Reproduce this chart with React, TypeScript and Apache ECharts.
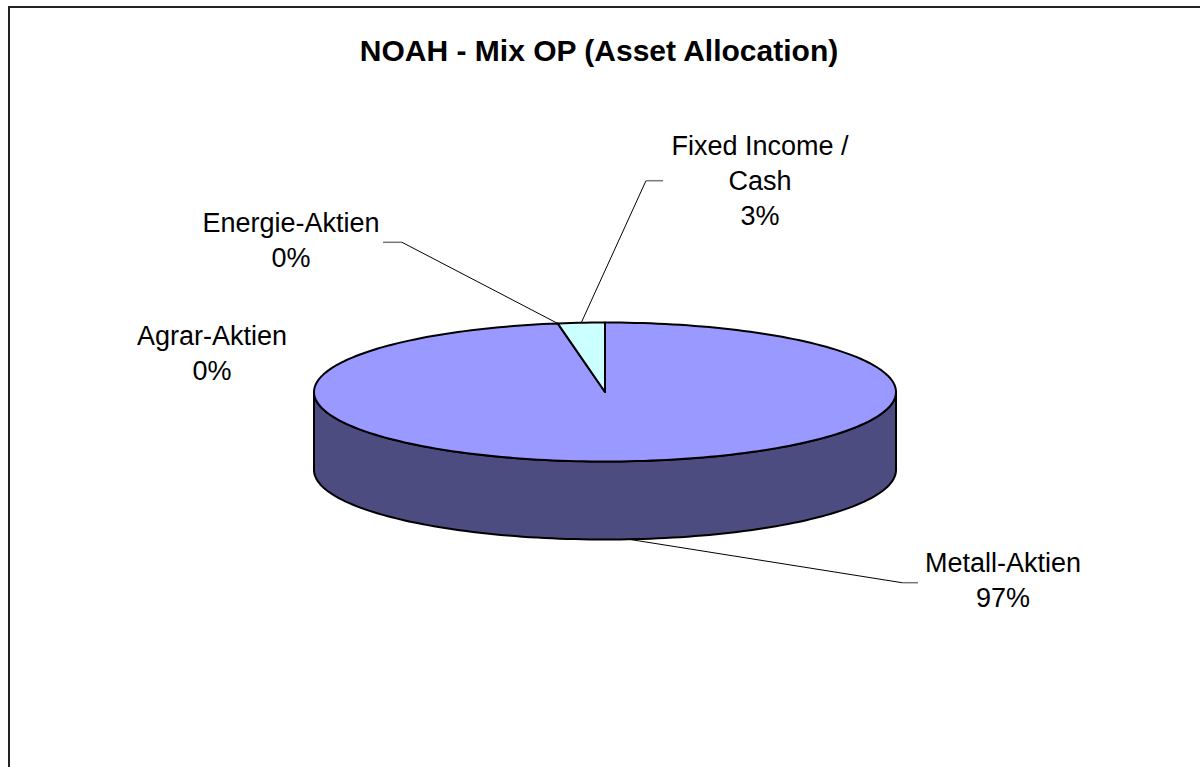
import React, { useEffect, useRef } from "react";
import * as echarts from "echarts";

// ---- data ----
const categories = ["Metall-Aktien", "Agrar-Aktien", "Energie-Aktien", "Fixed Income / Cash"];
const values = [97.4, 0, 0, 2.6];
const topColors = ["#9999FF", "#993366", "#FFFFCC", "#CCFFFF"];
const sideColors = ["#4C4C80", "#4C1A33", "#808066", "#668080"];
const titleText = "NOAH - Mix OP (Asset Allocation)";

// ---- layout (positions only) ----
const CX = 605;
const CY = 392;
const RX = 291;
const RY = 69.5;
const DEPTH = 78;
const labelLayout = [
  { x: 1003, y: 580, elbow: [902, 582.7], end: 918 },
  { x: 212, y: 353, elbow: null, end: 0 },
  { x: 291, y: 240.5, elbow: [402, 242.3], end: 383 },
  { x: 760, y: 181, elbow: [646, 180.7], end: 663 },
];

const total = values.reduce((a, b) => a + b, 0);
const startAngle = (i: number) => (values.slice(0, i).reduce((a, b) => a + b, 0) / total) * 360;

function pt(deg: number, dy = 0): number[] {
  const r = (deg * Math.PI) / 180;
  return [CX + RX * Math.sin(r), CY - RY * Math.cos(r) + dy];
}
function arc(a0: number, a1: number, dy = 0): number[][] {
  const n = Math.max(2, Math.ceil(Math.abs(a1 - a0) / 1.5));
  const out: number[][] = [];
  for (let k = 0; k <= n; k++) out.push(pt(a0 + ((a1 - a0) * k) / n, dy));
  return out;
}

const FONT = '"Liberation Sans", Arial, sans-serif';

export default function App() {
  const ref = useRef<HTMLDivElement>(null);
  useEffect(() => {
    if (!ref.current) return;
    const chart = echarts.init(ref.current, undefined, { renderer: "svg" });
    const data = values.map((v) => [v]);

    const sideSeries = {
      type: "custom",
      coordinateSystem: "none",
      z: 1,
      data,
      renderItem: (params: any, api: any) => {
        const i = params.dataIndex;
        const v = api.value(0);
        const a0 = startAngle(i);
        const a1 = a0 + (v / total) * 360;
        const s = Math.max(a0, 90);
        const e = Math.min(a1, 270);
        if (v <= 0 || s >= e) return { type: "group", children: [] };
        const points = [...arc(s, e, 0), ...arc(e, s, DEPTH)];
        return {
          type: "polygon",
          shape: { points },
          style: { fill: sideColors[i], stroke: "#000", lineWidth: 2, lineJoin: "round" },
        };
      },
    };

    const topSeries = {
      type: "custom",
      coordinateSystem: "none",
      z: 2,
      data,
      renderItem: (params: any, api: any) => {
        const i = params.dataIndex;
        const v = api.value(0);
        if (v <= 0) return { type: "group", children: [] };
        const a0 = startAngle(i);
        const a1 = a0 + (v / total) * 360;
        const points = [[CX, CY], ...arc(a0, a1, 0)];
        return {
          type: "polygon",
          shape: { points },
          style: { fill: topColors[i], stroke: "#000", lineWidth: 2, lineJoin: "round" },
        };
      },
    };

    const labelSeries = {
      type: "custom",
      coordinateSystem: "none",
      z: 3,
      data,
      renderItem: (params: any, api: any) => {
        const i = params.dataIndex;
        const v = api.value(0);
        const a0 = startAngle(i);
        const mid = a0 + (v / total) * 180;
        const L = labelLayout[i];
        const pct = Math.round((v / total) * 100);
        const name = categories[i].replace(" / ", " /\n");
        const children: any[] = [
          {
            type: "text",
            style: {
              text: `${name}\n${pct}%`,
              x: L.x,
              y: L.y,
              align: "center",
              verticalAlign: "middle",
              font: `27px ${FONT}`,
              lineHeight: 35,
              fill: "#000",
            },
          },
        ];
        if (L.elbow) {
          const visibleFront = mid > 90 && mid < 270;
          const anchor = pt(mid, visibleFront ? DEPTH : 0);
          children.push({
            type: "polyline",
            shape: { points: [anchor, L.elbow] },
            style: { stroke: "#000", lineWidth: 1, fill: null },
          });
          children.push({
            type: "line",
            shape: { x1: L.elbow[0], y1: L.elbow[1], x2: L.end, y2: L.elbow[1] },
            style: { stroke: "#777", lineWidth: 1.5 },
          });
        }
        return { type: "group", children };
      },
    };

    chart.setOption({
      animation: false,
      backgroundColor: "#fff",
      graphic: [
        {
          type: "rect",
          shape: { x: 9, y: 7, width: 1300, height: 900 },
          style: { fill: "none", stroke: "#222", lineWidth: 2 },
          z: 0,
        },
        {
          type: "text",
          x: 599,
          y: 50,
          style: {
            text: titleText,
            align: "center",
            verticalAlign: "middle",
            font: `bold 30px ${FONT}`,
            fill: "#000",
          },
        },
      ],
      series: [sideSeries, topSeries, labelSeries],
    });
    return () => chart.dispose();
  }, []);
  return (
    <div
      ref={ref}
      style={{ position: "absolute", left: 0, top: 0, width: 1200, height: 767, background: "#fff" }}
    />
  );
}
